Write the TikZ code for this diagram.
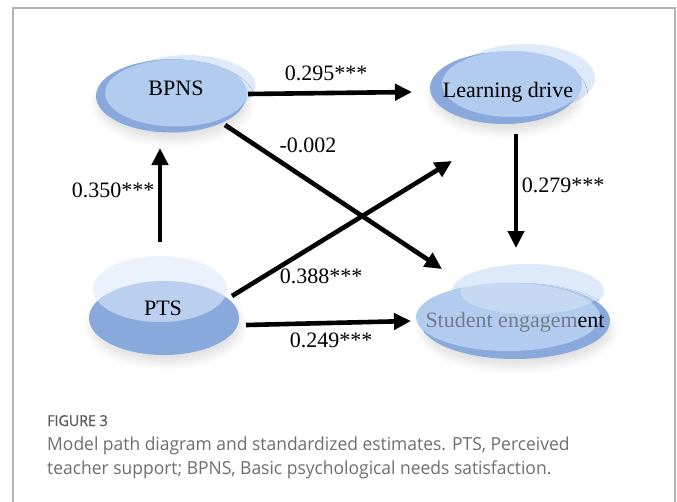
\documentclass[tikz,border=0pt]{standalone}
\usepackage{fontspec}
\setmainfont{Liberation Serif}
\newfontfamily\capfont[FakeStretch=0.97]{Open Sans}
\newfontfamily\figfont[FakeStretch=0.95,FakeBold=0.8]{Open Sans}
\usetikzlibrary{arrows.meta,shapes.geometric,shadows.blur}
\definecolor{halocol}{HTML}{DDEAFA}
\definecolor{basecol}{HTML}{89A9DC}
\definecolor{facecol}{HTML}{B2CCEF}
\definecolor{framegray}{HTML}{B4B4B4}
\definecolor{capgray}{HTML}{6E6E6E}
\definecolor{figgray}{HTML}{5A5A5A}
\definecolor{segray}{HTML}{737C8A}
\begin{document}
\begin{tikzpicture}[x=1pt,y=-1pt,
  ell/.style={ellipse, inner sep=0pt, outer sep=0pt},
  halo/.style={ell, fill=halocol},
  base/.style={ell, fill=basecol, blur shadow={shadow xshift=2pt, shadow yshift=-8pt, shadow opacity=12, shadow blur radius=8pt}},
  face/.style={ell, fill=facecol},
  lbl/.style={font=\fontsize{22}{24}\selectfont, inner sep=0pt},
  arr/.style={line width=4.6pt, -{Triangle[length=17pt,width=16pt]}},
  captext/.style={font=\capfont\fontsize{18}{22}\selectfont, text=capgray, inner sep=0pt, anchor=base west},
]
\useasboundingbox (0,0) rectangle (677,501);
\draw[framegray, line width=1.4pt] (13,520) -- (13,8) -- (675,8) -- (675,520);

% BPNS
\node[halo, minimum width=135pt, minimum height=62pt] (bpnsH) at (188,86) {};
\node[base, minimum width=150pt, minimum height=73pt] (bpnsB) at (171,96) {};
\node[face, minimum width=142pt, minimum height=67pt] (bpns) at (176,93) {};
\node[lbl] (bpnsT) at (176,88) {BPNS};

% Learning drive
\node[halo, minimum width=140pt, minimum height=68pt] (ldH) at (525,78) {};
\node[base, minimum width=148pt, minimum height=72pt] (ldB) at (504,88) {};
\node[face, minimum width=140pt, minimum height=66pt] (ld) at (512,84) {};
\node[lbl] (ldT) at (508,92) {Learning drive};

% PTS
\node[base, minimum width=150pt, minimum height=74pt] (pts) at (164,318) {};
\node[halo, opacity=0.6, minimum width=134pt, minimum height=66pt] (ptsH) at (160,289) {};
\node[lbl] (ptsT) at (163,308) {PTS};

% Student engagement
\node[halo, minimum width=152pt, minimum height=54pt] (seH) at (528,291) {};
\node[base, minimum width=190pt, minimum height=76pt] (seB) at (515,321) {};
\node[face, minimum width=184pt, minimum height=68pt] (se) at (508,317) {};
\node[halo, opacity=0.45, minimum width=140pt, minimum height=44pt] (seH2) at (530,292) {};
\node[lbl] (seT) at (515,322) {\textcolor{segray}{Student engagem}ent};

% paths
\draw[arr] ([shift={(72,1)}]bpns.center) -- ([shift={(-100,8)}]ld.center);
\draw[arr] ([shift={(49,32)}]bpns.center) -- ([shift={(-66,-48)}]se.center);
\draw[arr] ([shift={(68,-22)}]pts.center) -- ([shift={(-60,77)}]ld.center);
\draw[arr] ([shift={(4,50)}]ld.center) -- ([shift={(8,-69)}]se.center);
\draw[arr] ([shift={(-4,-76)}]pts.center) -- ([shift={(-16,55)}]bpns.center);
\draw[arr] ([shift={(82,7)}]pts.center) -- ([shift={(-97,4)}]se.center);

% labels
\node[lbl] (l1) at (326,73) {0.295***};
\node[lbl] (l2) at (308,145) {-0.002};
\node[lbl] (l3) at (321,276) {0.388***};
\node[lbl] (l4) at (563,185) {0.279***};
\node[lbl] (l5) at (113,190) {0.350***};
\node[lbl] (l6) at (331,340) {0.249***};

% caption
\node[captext, font=\figfont\fontsize{15}{17}\selectfont, text=figgray] (fig) at (47,426) {FIGURE 3};
\node[captext] (c1) at (47,450) {Model path diagram and standardized estimates. PTS, Perceived};
\node[captext] (c2) at (47,474) {teacher support; BPNS, Basic psychological needs satisfaction.};
\end{tikzpicture}
\end{document}
